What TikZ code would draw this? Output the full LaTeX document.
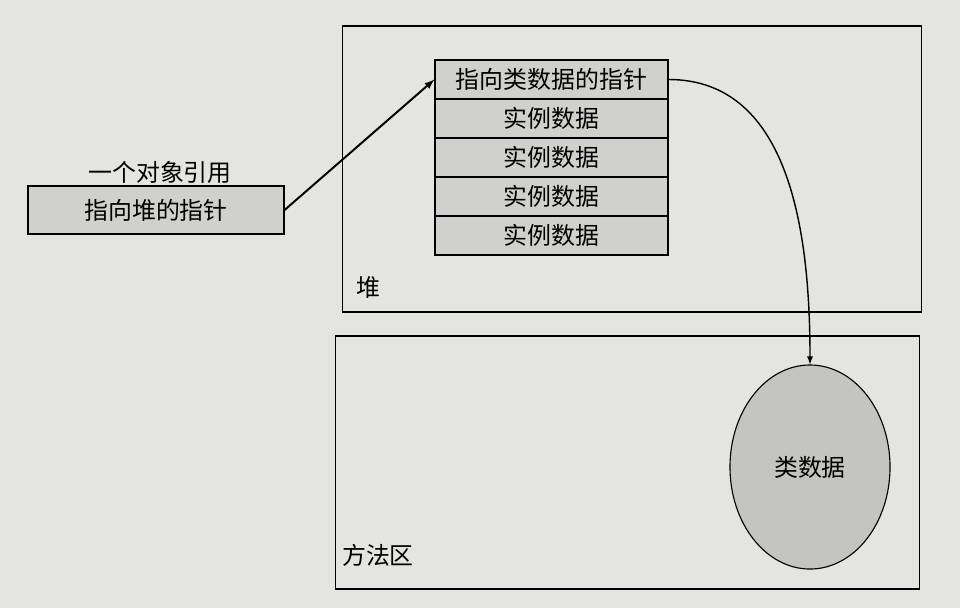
\documentclass[tikz,border=0pt]{standalone}
\usepackage{fontspec}
\setmainfont{Noto Sans CJK SC}
\usepackage{tikz}
\usetikzlibrary{shapes.geometric}

\definecolor{paper}{RGB}{228,228,226}
\definecolor{dots}{RGB}{208,208,206}
\definecolor{darkdots}{RGB}{196,196,194}

\begin{document}
\begin{tikzpicture}[
		x=0.025cm, y=-0.025cm,
		area/.style = {draw, line width=0.8pt, inner sep=0pt},
		row/.style = {draw, line width=0.8pt, fill=dots, minimum width=5.825cm, minimum height=0.975cm, inner sep=0pt},
		arrow/.style = {-latex, line width=1pt},
		font=\fontsize{17}{20}\selectfont
			]
		\fill[paper] (0,0) rectangle (960,608);
		\useasboundingbox (0,0) rectangle (960,608);

		\node [area, minimum width=14.45cm, minimum height=7.15cm] (heap) at (632,169) {};
		\node [area, minimum width=14.575cm, minimum height=6.325cm] (methodarea) at (627.5,462.5) {};

		\node (heapname) at (368,287) {堆};
		\node (methodname) at (378,555) {方法区};

		\node [row] (ptr) at (551.5,79.5) {指向类数据的指针};
		\node [row] (inst1) at (551.5,118.5) {实例数据};
		\node [row] (inst2) at (551.5,157.5) {实例数据};
		\node [row] (inst3) at (551.5,196.5) {实例数据};
		\node [row] (inst4) at (551.5,235.5) {实例数据};

		\node (refname) at (160,172) {一个对象引用};
		\node [row, minimum width=6.4cm, minimum height=1.2cm] (ref) at (156,210) {指向堆的指针};

		\node [draw, ellipse, line width=0.8pt, fill=darkdots, minimum width=4cm, minimum height=5.1cm] (classdata) at (810,467) {类数据};

		\draw [arrow, line width=1.4pt] (ref.east) -- (ptr.west);
		\draw [arrow] (ptr.east) to[out=0,in=90] (classdata.north);

	\end{tikzpicture}
\end{document}
